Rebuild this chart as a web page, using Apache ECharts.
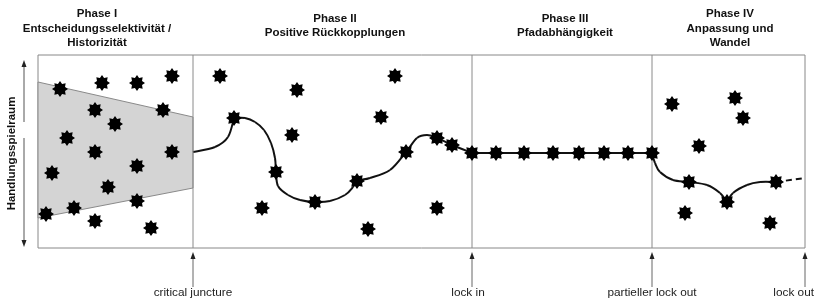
<!DOCTYPE html>
<html><head><meta charset="utf-8">
<script src="https://cdn.jsdelivr.net/npm/echarts@6/dist/echarts.min.js"></script>
<style>html,body{margin:0;padding:0;background:#fff}#c{width:815px;height:303px}</style>
</head><body><div id="c"></div>
<script>
// ---- data (x: time units across the diagram, y: Handlungsspielraum units) ----
const phaseTitles = [
  {x: 59,  lines: ['Phase I', 'Entscheidungsselektivität /', 'Historizität']},
  {x: 297, lines: ['Phase II', 'Positive Rückkopplungen']},
  {x: 527, lines: ['Phase III', 'Pfadabhängigkeit']},
  {x: 692, lines: ['Phase IV', 'Anpassung und', 'Wandel']}
];
const phaseBounds = [155, 434, 614];
const lockPoints = [155, 434, 614, 767];
const lockLabels = ['critical juncture', 'lock in', 'partieller lock out', 'lock out'];
const funnel = [[0,166],[155,131],[155,60],[0,30]];
const freeStars = [
  [22,159],[64,165],[99,165],[134,172],[182,172],
  [57,138],[125,138],[77,124],[29,110],[57,96],[134,96],
  [99,82],[14,75],[70,61],[36,40],[99,47],[8,34],[57,27],[113,20],
  [259,158],[357,172],[343,131],[254,113],[224,40],[330,19],[399,40],
  [634,144],[697,150],[705,130],[661,102],[647,35],[732,25]
];
const curveIIa = [[155,96],[177,101],[190,111],[196,130]];
const curveIIb = [[196,130],[207,130],[217,126],[226,118],[233,105],[237,90],[238,76],[240,62],[250,53],[262,48],[277,46],[292,47],[307,53],[315,61],[319,67],[332,70],[352,78],[368,96],[379,110],[389,113],[399,110],[414,103],[434,95]];
const curveIII = [[434,95],[614,95]];
const curveIVa = [[614,95],[617,85],[622,76],[635,68],[651,66],[669,63],[682,55],[689,46]];
const curveIVb = [[689,46],[695,55],[709,63],[722,66],[738,66]];
const curveIVdash = [[738,66],[767,70]];
const curveStars = [
  [196,130],[238,76],[277,46],[319,67],[368,96],[399,110],[414,103],
  [434,95],[458,95],[486,95],[515,95],[541,95],[566,95],[590,95],[614,95],
  [651,66],[689,46],[738,66]
];
const lockArrows = lockPoints.map(x => [x, -4, -39]);
const yArrowTop = [-14, 188, 126];
const yArrowBottom = [-14, 1, 110];
const yAxisName = 'Handlungsspielraum';

function starPath(){
  let s = 'path://';
  for (let i = 0; i < 16; i++) {
    const a = i * Math.PI / 8 - Math.PI / 2;
    const r = i % 2 ? 0.68 : 1;
    s += (i ? 'L' : 'M') + (r * Math.cos(a) * 10 + 10).toFixed(2) + ',' + (r * Math.sin(a) * 10 + 10).toFixed(2);
  }
  return s + 'Z';
}
const STAR = starPath();

const chart = echarts.init(document.getElementById('c'), null, {renderer: 'canvas'});
const lineSeries = (data, extra) => Object.assign({
  type: 'line', data: data, showSymbol: false, symbol: 'none', silent: true, clip: false,
  lineStyle: {color: '#111', width: 2}, animation: false
}, extra || {});

const splineSeries = (points, dash) => ({
  type: 'custom', silent: true, animation: false, clip: false, data: [0], z: 3,
  renderItem: function(params, api){
    const p = points.map(d => api.coord(d));
    const kids = [];
    for (let i = 0; i < p.length - 1; i++) {
      const p0 = p[Math.max(i - 1, 0)], p1 = p[i], p2 = p[i + 1], p3 = p[Math.min(i + 2, p.length - 1)];
      kids.push({type: 'bezierCurve', shape: {
        x1: p1[0], y1: p1[1], x2: p2[0], y2: p2[1],
        cpx1: p1[0] + (p2[0] - p0[0]) / 6, cpy1: p1[1] + (p2[1] - p0[1]) / 6,
        cpx2: p2[0] - (p3[0] - p1[0]) / 6, cpy2: p2[1] - (p3[1] - p1[1]) / 6
      }, style: {stroke: '#111', lineWidth: 2, fill: null, lineDash: dash || null}});
    }
    return {type: 'group', children: kids};
  }
});

const arrowSeries = (data, color) => ({
  type: 'custom', silent: true, animation: false, clip: false, data: data,
  renderItem: function(params, api){
    const tip = api.coord([api.value(0), api.value(1)]);
    const end = api.coord([api.value(0), api.value(2)]);
    const dir = end[1] > tip[1] ? 1 : -1;
    return {type: 'group', children: [
      {type: 'line', shape: {x1: tip[0], y1: tip[1] + dir * 4, x2: end[0], y2: end[1]}, style: {stroke: color, lineWidth: 1}},
      {type: 'polygon', shape: {points: [[tip[0], tip[1]], [tip[0] - 2.5, tip[1] + dir * 7], [tip[0] + 2.5, tip[1] + dir * 7]]}, style: {fill: '#222'}}
    ]};
  }
});

const series = [];
series.push({
  type: 'custom', silent: true, animation: false, clip: false,
  data: [0],
  renderItem: function(params, api){
    const pts = funnel.map(p => api.coord(p));
    return {type: 'polygon', shape: {points: pts}, style: {fill: '#d4d4d4', stroke: '#8a8a8a', lineWidth: 1}};
  }
});
phaseBounds.forEach(x => series.push(lineSeries([[x,0],[x,193]], {lineStyle: {color: '#8a8a8a', width: 1}})));
series.push(arrowSeries(lockArrows, '#666'));
series.push(arrowSeries([yArrowTop, yArrowBottom], '#555'));
series.push(splineSeries(curveIIa));
series.push(splineSeries(curveIIb));
series.push(lineSeries(curveIII));
series.push(splineSeries(curveIVa));
series.push(splineSeries(curveIVb));
series.push(lineSeries(curveIVdash, {lineStyle: {color: '#111', width: 2, type: [6, 4]}}));
series.push({type: 'scatter', data: freeStars, symbol: STAR, symbolSize: 16, itemStyle: {color: '#000', opacity: 1}, silent: true, animation: false});
series.push({type: 'scatter', data: curveStars, symbol: STAR, symbolSize: 16, itemStyle: {color: '#000', opacity: 1}, silent: true, animation: false, z: 5});

chart.setOption({
  backgroundColor: '#fff',
  animation: false,
  grid: {left: 38, right: 10, top: 55, bottom: 55, show: true, borderColor: '#888', borderWidth: 1, backgroundColor: 'transparent'},
  xAxis: {type: 'value', min: 0, max: 767, show: false},
  yAxis: {type: 'value', min: 0, max: 193, show: false},
  series: series
});

const g = [];
const titleFont = 'bold 11.5px "Liberation Sans", Arial, sans-serif';
phaseTitles.forEach(t => {
  const px = chart.convertToPixel({gridIndex: 0}, [t.x, 0])[0];
  const startY = t.lines.length === 3 ? 14 : 18.5;
  t.lines.forEach((ln, i) => g.push({
    type: 'text', x: px, y: startY + i * 14.5,
    style: {text: ln, font: titleFont, fill: '#111', align: 'center', verticalAlign: 'middle'}
  }));
});
lockPoints.forEach((x, i) => {
  const px = chart.convertToPixel({gridIndex: 0}, [x, 0])[0];
  const right = i === lockPoints.length - 1;
  g.push({
    type: 'text', x: right ? px + 9 : px - (i === 1 ? 4 : 0), y: 293,
    style: {text: lockLabels[i], font: '11.8px "Liberation Sans", Arial, sans-serif', fill: '#222', align: right ? 'right' : 'center', verticalAlign: 'middle'}
  });
});
const yMid = chart.convertToPixel({gridIndex: 0}, [0, 96.5])[1];
g.push({
  type: 'text', x: 12, y: yMid + 2, rotation: Math.PI / 2,
  style: {text: yAxisName, font: 'bold 11.5px "Liberation Sans", Arial, sans-serif', fill: '#111', align: 'center', verticalAlign: 'middle'}
});
chart.setOption({graphic: g});
</script></body></html>
